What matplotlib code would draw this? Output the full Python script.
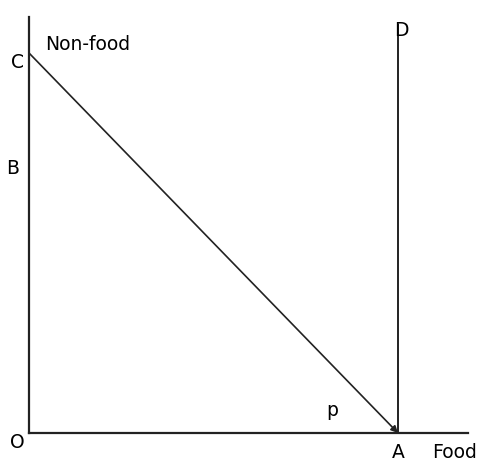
import matplotlib.pyplot as plt

# key points of the diagram (origin at O)
point_names = ["O", "A", "C", "D", "B"]
point_x = [0, 369, 0, 369, 0]
point_y = [0, 0, 380, 408, 265]
axis_x_end = 439
axis_y_end = 416

fig = plt.figure(figsize=(4.84, 4.63), dpi=100)
ax = fig.add_axes([0, 0, 1, 1])
ax.set_xlim(-29, 455)
ax.set_ylim(-30, 433)
ax.axis("off")

font = ["Century Gothic", "URW Gothic", "DejaVu Sans"]
col = "#222222"

# axes
ax.plot([0, axis_x_end], [0, 0], color=col, lw=1.6)
ax.plot([0, 0], [0, axis_y_end], color=col, lw=1.6)

# vertical line AD
ax.plot([point_x[1], point_x[3]], [point_y[1], point_y[3]], color=col, lw=1.4)

# line C -> A with arrow
ax.annotate("", xy=(point_x[1], point_y[1]), xytext=(point_x[2], point_y[2]),
            arrowprops=dict(arrowstyle="-|>", color=col, lw=1.2,
                            mutation_scale=10, shrinkA=0, shrinkB=0))

fs = 13.5
ax.text(-12, -10, "O", fontsize=fs, family=font, ha="center", va="center")
ax.text(point_x[1], -20, "A", fontsize=fs, family=font, ha="center", va="center")
ax.text(403, -20, "Food", fontsize=fs, family=font, ha="left", va="center")
ax.text(-11.5, point_y[2] - 9, "C", fontsize=fs, family=font, ha="center", va="center")
ax.text(16, point_y[2] + 8, "Non-food", fontsize=fs, family=font, ha="left", va="center")
ax.text(-16, point_y[4], "B", fontsize=fs, family=font, ha="center", va="center")
ax.text(point_x[3] + 3, 403, "D", fontsize=fs, family=font, ha="center", va="center")
ax.text(303, 22, "p", fontsize=fs, family=font, ha="center", va="center")

fig.savefig("out.png", dpi=100)
